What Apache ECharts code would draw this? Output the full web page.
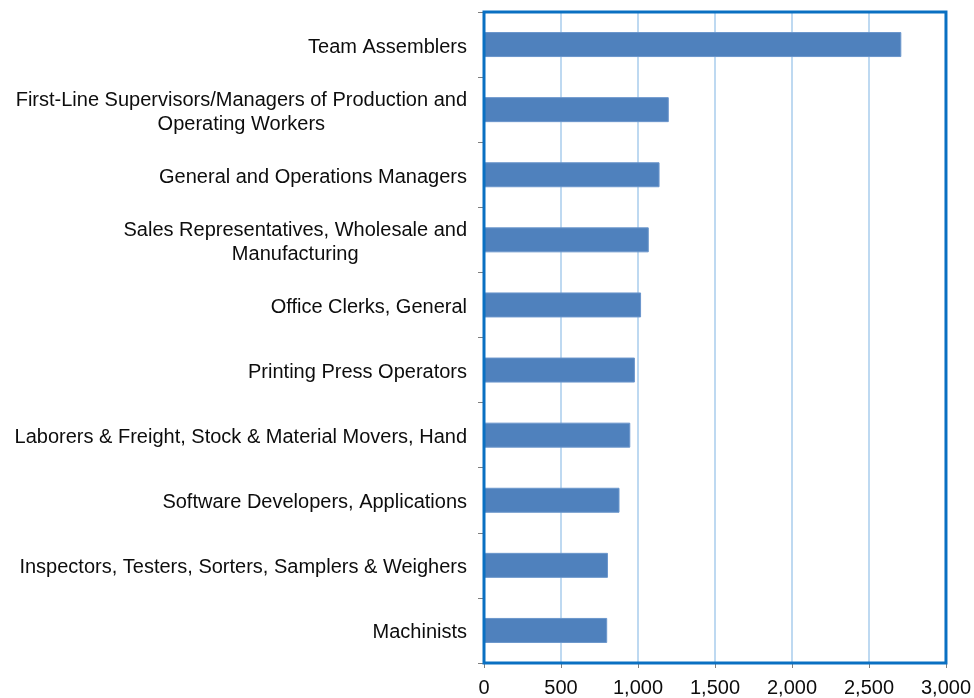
<!DOCTYPE html>
<html>
<head>
<meta charset="utf-8">
<script src="https://cdn.jsdelivr.net/npm/echarts@6/dist/echarts.min.js"></script>
<style>
  html, body { margin: 0; padding: 0; background: #fff; }
  #chart { width: 974px; height: 698px; }
</style>
</head>
<body>
<div id="chart"></div>
<script>
const occupations = [
  'Team Assemblers',
  'First-Line Supervisors/Managers of Production and\nOperating Workers',
  'General and Operations Managers',
  'Sales Representatives, Wholesale and\nManufacturing',
  'Office Clerks, General',
  'Printing Press Operators',
  'Laborers & Freight, Stock & Material Movers, Hand',
  'Software Developers, Applications',
  'Inspectors, Testers, Sorters, Samplers & Weighers',
  'Machinists'
]
const workers = [2710, 1200, 1140, 1070, 1020, 980, 950, 880, 805, 800]

const chart = echarts.init(document.getElementById('chart'), null, { renderer: 'canvas' })

const labelFont = { fontFamily: '"Liberation Sans", Arial, sans-serif', fontSize: 20, color: '#0d0d0d' }

chart.setOption({
  animation: false,
  grid: {
    left: 484, right: 28, top: 12, bottom: 31,
    show: true, borderColor: '#0a70c2', borderWidth: 3, backgroundColor: 'transparent', z: 3
  },
  xAxis: {
    type: 'value',
    min: 0, max: 3000, interval: 500,
    axisLine: { show: false },
    axisTick: { show: true, length: 5, lineStyle: { color: '#7f7f7f' } },
    axisLabel: {
      ...labelFont, margin: 15,
      formatter: v => v.toLocaleString('en-US')
    },
    splitLine: { showMinLine: false, showMaxLine: false, lineStyle: { color: '#a8cdec', width: 1.5 } }
  },
  yAxis: {
    type: 'category',
    inverse: true,
    data: occupations,
    axisLine: { show: false },
    axisTick: { show: true, length: 6, lineStyle: { color: '#7f7f7f' } },
    axisLabel: {
      margin: 17,
      padding: [5, 0, 0, 0],
      formatter: v => v.split('\n').map(s => '{c|' + s + '}').join('\n'),
      rich: { c: { ...labelFont, align: 'center', lineHeight: 24 } }
    }
  },
  series: [{
    type: 'bar',
    data: workers,
    barWidth: 25,
    itemStyle: { color: '#4f81bd', borderColor: '#6b96cc', borderWidth: 1 }
  }]
})

window.addEventListener('resize', () => chart.resize())
</script>
</body>
</html>
